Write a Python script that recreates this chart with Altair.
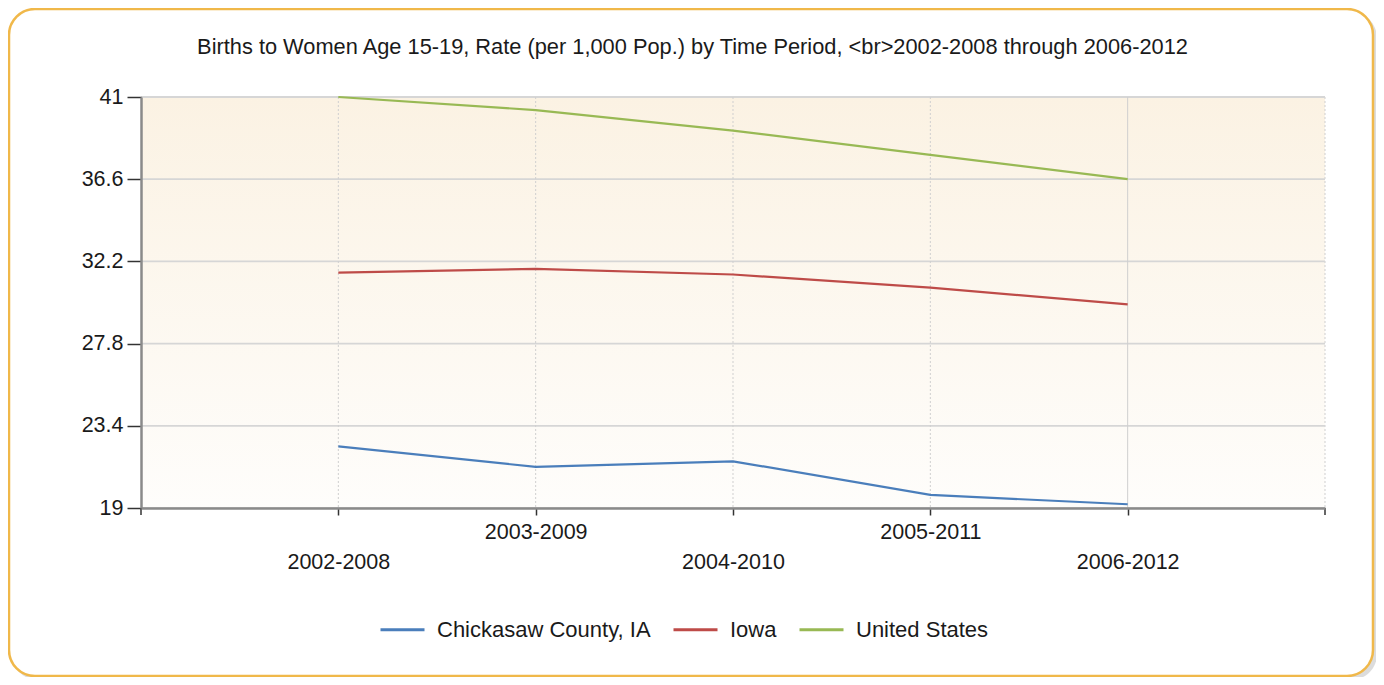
import altair as alt
import pandas as pd

periods = ["2002-2008", "2003-2009", "2004-2010", "2005-2011", "2006-2012"]
chickasaw = [22.3, 21.2, 21.5, 19.7, 19.2]
iowa = [31.6, 31.8, 31.5, 30.8, 29.9]
united_states = [41.0, 40.3, 39.2, 37.9, 36.6]
series_names = ["Chickasaw County, IA", "Iowa", "United States"]
series_colors = ["#4a7ebb", "#be4b48", "#98b954"]
y_ticks = [19, 23.4, 27.8, 32.2, 36.6, 41]
title_text = "Births to Women Age 15-19, Rate (per 1,000 Pop.) by Time Period, <br>2002-2008 through 2006-2012"

rows = []
for name, vals in zip(series_names, [chickasaw, iowa, united_states]):
    for p, v in zip(periods, vals):
        rows.append({"Period": p, "Series": name, "Rate": v})
df = pd.DataFrame(rows)

W, H = 1184, 411
FONT = "Liberation Sans"
TXT = "#1a1a1a"

x_scale = alt.Scale(type="point", padding=1, domain=periods)
y_scale = alt.Scale(domain=[19, 41], nice=False, zero=False)

x_axis = alt.Axis(
    labelExpr="indexof(['2003-2009','2005-2011'], datum.value) >= 0 ? datum.value : ['', datum.value]",
    labelFontSize=21.5, labelColor=TXT, labelFont=FONT, labelAngle=0,
    labelPadding=6, labelLineHeight=30,
    tickSize=7, tickColor="#333", tickWidth=1.5,
    domainColor="#8a8a8a", domainWidth=2.5, grid=False, zindex=1,
)
y_axis = alt.Axis(values=y_ticks, labelFontSize=21.5, labelColor=TXT, labelFont=FONT,
                  labelPadding=4, tickSize=14, tickColor="#333", tickWidth=1.5,
                  domainColor="#8a8a8a", domainWidth=2.5, grid=False, zindex=1,
                  labelExpr="datum.value")

# decorative frame + shadow + plot background
deco = pd.DataFrame({"k": [0]})
shadow = alt.Chart(deco).mark_rect(
    cornerRadius=26, fill="#c4c4c4", opacity=0.6, clip=False
).encode(x=alt.value(-129), x2=alt.value(1236), y=alt.value(-85), y2=alt.value(583))
frame = alt.Chart(deco).mark_rect(
    cornerRadius=26, fill="white", stroke="#f0b84a", strokeWidth=2.5, clip=False
).encode(x=alt.value(-132), x2=alt.value(1232), y=alt.value(-88), y2=alt.value(579))
plotbg = alt.Chart(deco).mark_rect(
    color=alt.LinearGradient(
        gradient="linear", x1=0, x2=0, y1=0, y2=1,
        stops=[alt.GradientStop(color="#fbf2e3", offset=0),
               alt.GradientStop(color="#fefdfb", offset=1)]
    )
).encode(x=alt.value(0), x2=alt.value(W), y=alt.value(0), y2=alt.value(H))

title = alt.Chart(deco).mark_text(
    text=title_text, font=FONT, fontSize=21.8, color=TXT, align="center", baseline="middle", clip=False
).encode(x=alt.value(551.5), y=alt.value(-50))

right_edge = alt.Chart(deco).mark_rule(color="#cfcfcf", strokeDash=[2, 2], strokeWidth=1).encode(
    x=alt.value(W), y=alt.value(0), y2=alt.value(H)
)

ygrid = alt.Chart(pd.DataFrame({"Rate": y_ticks})).mark_rule(color="#d6d6d6", strokeWidth=1.8).encode(
    y=alt.Y("Rate:Q", scale=y_scale, axis=y_axis, title=None),
    x=alt.value(0), x2=alt.value(W),
)
xgrid = alt.Chart(pd.DataFrame({"Period": periods})).mark_rule(color="#cfcfcf", strokeWidth=1).encode(
    x=alt.X("Period:N", scale=x_scale, sort=periods, axis=x_axis, title=None),
    y=alt.value(0), y2=alt.value(H),
    strokeDash=alt.condition("datum.Period === '2006-2012'", alt.value([1, 0]), alt.value([2, 2])),
)

lines = alt.Chart(df).mark_line(strokeWidth=2.2).encode(
    x=alt.X("Period:N", scale=x_scale, sort=periods, axis=x_axis, title=None),
    y=alt.Y("Rate:Q", scale=y_scale, axis=y_axis, title=None),
    color=alt.Color("Series:N", scale=alt.Scale(domain=series_names, range=series_colors),
                    sort=series_names,
                    legend=alt.Legend(title=None, orient="none", direction="horizontal",
                                      legendX=238, legendY=509,
                                      symbolType="stroke", symbolSize=1936, symbolStrokeWidth=3,
                                      labelFontSize=22, labelFont=FONT, labelColor=TXT,
                                      labelLimit=500, labelOffset=11, columnPadding=16)),
)

end_tick_l = alt.Chart(deco).mark_rule(color="#333", strokeWidth=1.5, clip=False).encode(
    x=alt.value(0), y=alt.value(H), y2=alt.value(H + 7))
end_tick_r = alt.Chart(deco).mark_rule(color="#333", strokeWidth=1.5, clip=False).encode(
    x=alt.value(W), y=alt.value(H), y2=alt.value(H + 7))

chart = alt.layer(shadow, frame, plotbg, title, right_edge, ygrid, xgrid, lines, end_tick_l, end_tick_r).properties(
    width=W, height=H,
    autosize=alt.AutoSizeParams(type="none"),
    padding={"left": 133, "top": 89, "right": 51, "bottom": 169},
).configure_view(stroke=None)

chart.save("out.html", embed_options={"renderer": "svg", "actions": False})
